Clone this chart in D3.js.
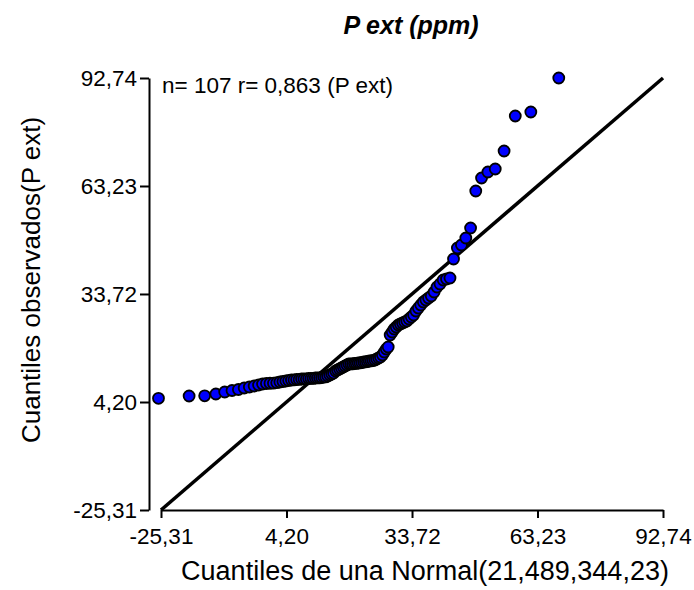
<!DOCTYPE html>
<html>
<head>
<meta charset="utf-8">
<script src="https://cdn.jsdelivr.net/npm/d3@7"></script>
<style>
  html, body { margin: 0; padding: 0; background: #fff; }
  svg text { font-family: "Liberation Sans", Arial, sans-serif; fill: #000; }
</style>
</head>
<body>
<svg id="chart" width="694" height="590"></svg>
<script>
// Normal quantiles (expected) for each ranked observation
const normalQuantiles = [
  -25.90, -18.70, -15.04, -12.41, -10.33, -8.61, -7.11, -5.75, -4.53, -3.41,
  -2.37, -1.43, -0.52, 0.32, 1.13, 1.91, 2.65, 3.36, 4.04, 4.71,
  5.36, 5.97, 6.58, 7.18, 7.75, 8.31, 8.87, 9.41, 9.94, 10.46,
  10.98, 11.48, 11.98, 12.47, 12.95, 13.43, 13.89, 14.38, 14.84, 15.28,
  15.75, 16.19, 16.66, 17.10, 17.55, 17.97, 18.42, 18.86, 19.31, 19.74,
  20.18, 20.61, 21.05, 21.48, 21.91, 22.35, 22.78, 23.22, 23.65, 24.10,
  24.54, 24.99, 25.41, 25.86, 26.30, 26.77, 27.21, 27.68, 28.12, 28.58,
  29.07, 29.53, 30.01, 30.50, 30.98, 31.48, 31.98, 32.50, 33.02, 33.56,
  34.09, 34.65, 35.21, 35.78, 36.38, 36.99, 37.60, 38.25, 38.92, 39.60,
  40.31, 41.05, 41.83, 42.65, 43.48, 44.39, 45.34, 46.37, 47.49, 48.71,
  50.07, 51.57, 53.29, 55.37, 58.00, 61.66, 68.23
];

// Observed P ext values, sorted ascending
const observedPext = [
  5.21, 5.84, 5.90, 6.39, 6.93, 7.34, 7.62, 8.03, 8.30, 8.57,
  8.85, 9.12, 9.26, 9.32, 9.35, 9.48, 9.67, 9.81, 9.94, 10.08,
  10.21, 10.24, 10.35, 10.37, 10.49, 10.50, 10.52, 10.63, 10.65, 10.66,
  10.76, 10.78, 10.80, 10.90, 11.03, 11.05, 11.31, 11.58, 11.85, 12.13,
  12.67, 12.95, 13.22, 13.49, 13.77, 14.04, 14.31, 14.59, 14.60, 14.62,
  14.74, 14.76, 14.86, 14.88, 15.00, 15.13, 15.15, 15.27, 15.41, 15.43,
  15.54, 15.68, 15.95, 16.23, 16.50, 17.05, 17.87, 18.69, 19.23, 22.51,
  23.33, 24.15, 24.70, 25.24, 25.52, 25.79, 26.06, 26.34, 26.88, 27.43,
  27.98, 29.07, 29.89, 30.71, 31.53, 32.07, 32.62, 33.17, 34.26, 35.63,
  36.45, 37.54, 37.81, 38.09, 43.28, 46.28, 47.10, 49.02, 51.75, 61.86,
  65.41, 67.05, 67.87, 72.79, 82.35, 83.45, 92.74
];

const tickValues = [-25.31, 4.20, 33.72, 63.23, 92.74];
const tickLabels = ["-25,31", "4,20", "33,72", "63,23", "92,74"];
const axisDomain = [-25.31, 92.74];

const titleText = "P ext (ppm)";
const statsText = "n= 107 r= 0,863 (P ext)";
const xTitle = "Cuantiles de una Normal(21,489,344,23)";
const yTitle = "Cuantiles observados(P ext)";

const points = normalQuantiles.map((q, i) => ({ q, v: observedPext[i] }));

const svg = d3.select("#chart");

const x = d3.scaleLinear().domain(axisDomain).range([161, 663]);
const y = d3.scaleLinear().domain(axisDomain).range([510, 78]);
const yAxisX = 149;
const xAxisY = 510;

const fmt = d => tickLabels[tickValues.indexOf(d)];

// x axis
const gx = svg.append("g").attr("transform", `translate(0,${xAxisY})`)
  .call(d3.axisBottom(x).tickValues(tickValues).tickFormat(fmt)
    .tickSizeInner(8).tickSizeOuter(0).tickPadding(10));
// y axis (detached from the x axis)
const gy = svg.append("g").attr("transform", `translate(${yAxisX},0)`)
  .call(d3.axisLeft(y).tickValues(tickValues).tickFormat(fmt)
    .tickSizeInner(9).tickSizeOuter(0).tickPadding(3));

[gx, gy].forEach(g => {
  g.select(".domain").attr("stroke", "#000").attr("stroke-width", 2);
  g.selectAll(".tick line").attr("stroke", "#000").attr("stroke-width", 2);
  g.selectAll(".tick text")
    .style("font-family", '"Liberation Sans", Arial, sans-serif')
    .style("font-size", "22.5px").attr("fill", "#000");
});

// reference line y = x
svg.append("line")
  .attr("x1", x(axisDomain[0])).attr("y1", y(axisDomain[0]))
  .attr("x2", x(axisDomain[1])).attr("y2", y(axisDomain[1]))
  .attr("stroke", "#000").attr("stroke-width", 3.5);

// points
svg.append("g").selectAll("circle").data(points).join("circle")
  .attr("cx", d => x(d.q)).attr("cy", d => y(d.v))
  .attr("r", 5.5)
  .attr("fill", "#0000ff").attr("stroke", "#000").attr("stroke-width", 1.8);

// texts
svg.append("text").attr("x", 411).attr("y", 34).attr("text-anchor", "middle")
  .style("font-size", "25px").style("font-weight", "bold").style("font-style", "italic")
  .text(titleText);

svg.append("text").attr("x", 162).attr("y", 93)
  .style("font-size", "22.5px").text(statsText);

svg.append("text").attr("x", 425).attr("y", 580).attr("text-anchor", "middle")
  .style("font-size", "27px").text(xTitle);

svg.append("text").attr("transform", "translate(40,280) rotate(-90)")
  .attr("text-anchor", "middle").style("font-size", "26px").text(yTitle);
</script>
</body>
</html>
